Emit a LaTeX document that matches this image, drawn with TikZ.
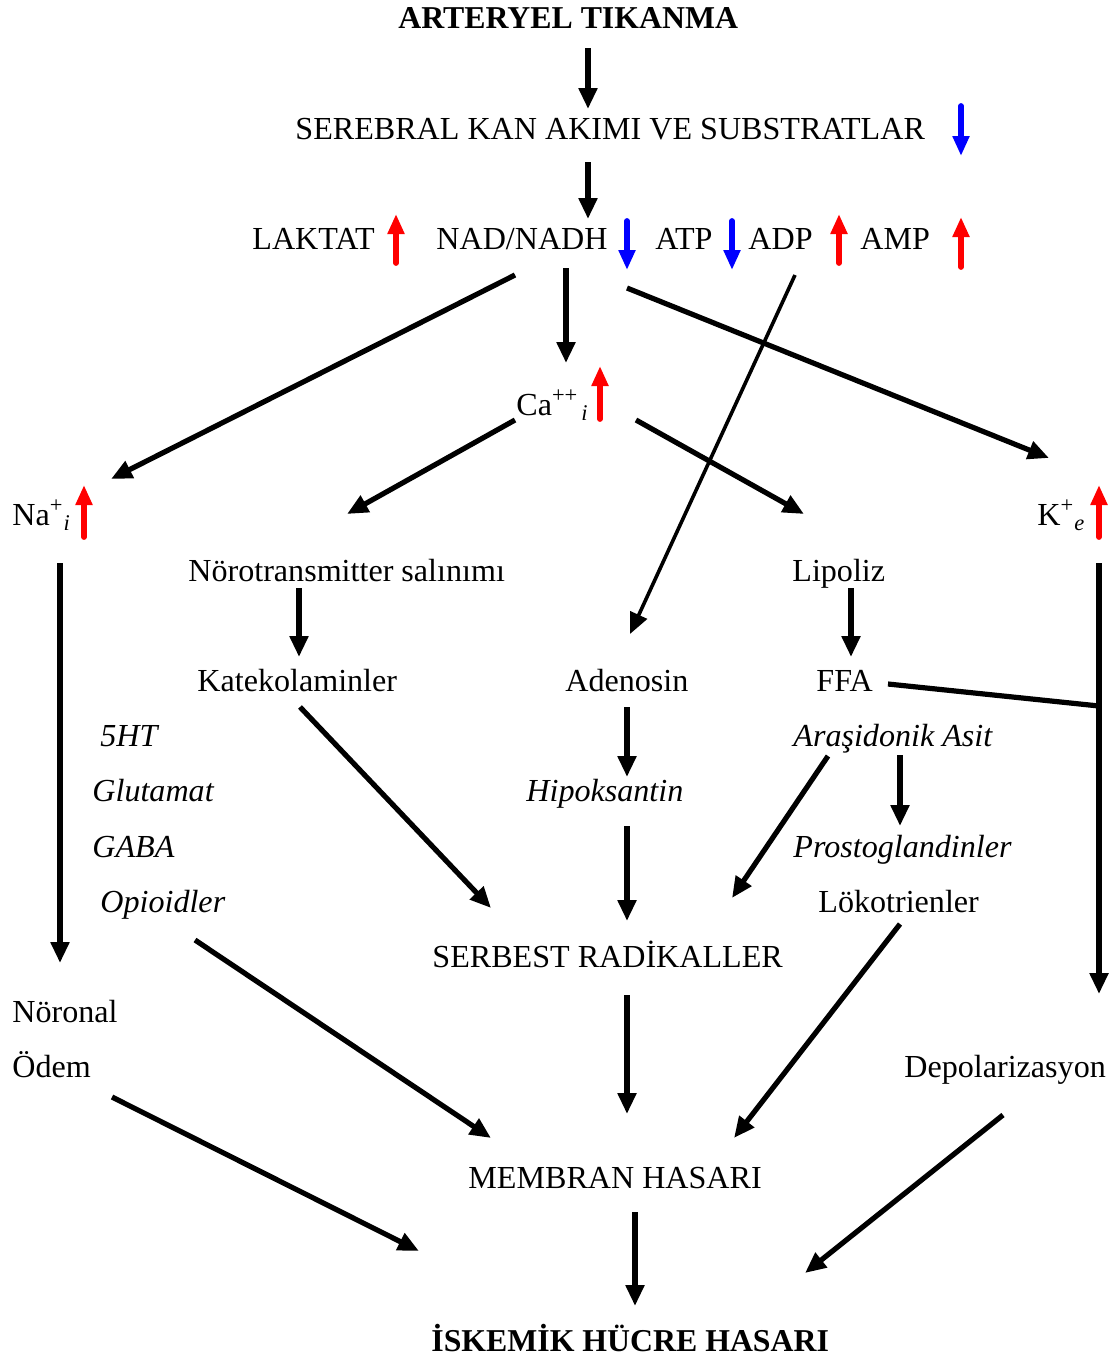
\documentclass[tikz,border=0pt]{standalone}
\usepackage{fontspec}
\setmainfont{Liberation Serif}
\usetikzlibrary{arrows.meta}

\tikzset{
    txt/.style={anchor=base west, inner sep=0, font=\fontsize{16.05}{19}\selectfont},
    itxt/.style={txt, font=\fontsize{16.05}{19}\selectfont\itshape},
    btxt/.style={txt, font=\fontsize{15.9}{19}\selectfont\bfseries},
    flow/.style={line width=2.6pt, -{Triangle[length=10.5pt,width=9pt]}},
    thin flow/.style={flow, line width=1.8pt},
    up mark/.style={red, line width=2.9pt, line cap=round, -{Triangle[length=10pt,width=8pt]}},
    down mark/.style={up mark, blue}
    }

\begin{document}
\begin{tikzpicture}[x=0.5pt, y=-0.5pt]
                \useasboundingbox (0,0) rectangle (1117,1360);
                % texts
                \node(art)[btxt] at (398,28) {ARTERYEL TIKANMA};
                \node(seb)[txt] at (295,139) {SEREBRAL KAN AKIMI VE SUBSTRATLAR};
                \node(lak)[txt] at (252,249) {LAKTAT};
                \node(nad)[txt] at (436,249) {NAD/NADH};
                \node(atp)[txt] at (655,249) {ATP};
                \node(adp)[txt] at (748,249) {ADP};
                \node(amp)[txt] at (860,249) {AMP};
                \node(ca)[txt] at (516,415) {Ca\textsuperscript{++}\kern1.5pt\textsubscript{\textit{i}}};
                \node(na)[txt] at (12,525) {Na\textsuperscript{+}\textsubscript{\textit{i}}};
                \node(k)[txt] at (1037,525) {K\textsuperscript{+}\textsubscript{\textit{e}}};
                \node(nor)[txt] at (188,581) {Nörotransmitter salınımı};
                \node(lip)[txt] at (792,581) {Lipoliz};
                \node(kat)[txt] at (197,691) {Katekolaminler};
                \node(ade)[txt] at (565,691) {Adenosin};
                \node(ffa)[txt] at (816,691) {FFA};
                \node(ht)[itxt] at (100,746) {5HT};
                \node(ara)[itxt] at (793,746) {Araşidonik Asit};
                \node(glu)[itxt] at (92,801) {Glutamat};
                \node(hip)[itxt] at (526,801) {Hipoksantin};
                \node(gab)[itxt] at (92,857) {GABA};
                \node(pro)[itxt] at (793,857) {Prostoglandinler};
                \node(opi)[itxt] at (100,912) {Opioidler};
                \node(lok)[txt] at (818,912) {Lökotrienler};
                \node(srb)[txt] at (432,967) {SERBEST RADİKALLER};
                \node(non)[txt] at (12,1022) {Nöronal};
                \node(ode)[txt] at (12,1077) {Ödem};
                \node(dep)[txt] at (904,1077) {Depolarizasyon};
                \node(mem)[txt] at (468,1188) {MEMBRAN HASARI};
                \node(isk)[btxt] at (431,1351) {İSKEMİK HÜCRE HASARI};

                % up / down marks
                \draw[down mark] (961,106) -- (961,156);
                \draw[up mark] (396,263) -- (396,214);
                \draw[down mark] (627,221) -- (627,270);
                \draw[down mark] (732,221) -- (732,270);
                \draw[up mark] (839,263) -- (839,214);
                \draw[up mark] (961,267) -- (961,217);
                \draw[up mark] (600,419) -- (600,366);
                \draw[up mark] (84,537) -- (84,485);
                \draw[up mark] (1099,537) -- (1099,485);

                % connector ends
                \coordinate (art-o) at (588,48);   \coordinate (seb-i) at (588,109);
                \coordinate (seb-o) at (588,162);  \coordinate (nad-i) at (588,219);
                \coordinate (nad-l) at (515,275);  \coordinate (na-i) at (111,479);
                \coordinate (nad-m) at (566,268);  \coordinate (ca-i) at (566,363);
                \coordinate (nad-r) at (627,288);  \coordinate (k-i) at (1049,458);
                \coordinate (adp-o) at (795,275);  \coordinate (ade-i) at (630,634);
                \coordinate (ca-l) at (515,420);   \coordinate (nor-i) at (347,514);
                \coordinate (ca-r) at (636,420);   \coordinate (lip-i) at (804,514);
                \coordinate (na-o) at (60,563);    \coordinate (non-i) at (60,963);
                \coordinate (k-o) at (1099,563);   \coordinate (dep-i) at (1099,994);
                \coordinate (k-j) at (1099,706);   \coordinate (ffa-o) at (888,684);
                \coordinate (nor-o) at (299,588);  \coordinate (kat-i) at (299,657);
                \coordinate (kat-o) at (300,707);  \coordinate (srb-l) at (491,908);
                \coordinate (opi-o) at (195,940);  \coordinate (mem-l) at (491,1138);
                \coordinate (lip-o) at (851,588);  \coordinate (ffa-i) at (851,657);
                \coordinate (ade-o) at (627,707);  \coordinate (hip-i) at (627,777);
                \coordinate (hip-o) at (627,826);  \coordinate (srb-i) at (627,921);
                \coordinate (ara-o) at (900,755);  \coordinate (pro-i) at (900,826);
                \coordinate (ara-l) at (828,756);  \coordinate (srb-r) at (732,898);
                \coordinate (lok-o) at (900,924);  \coordinate (mem-r) at (734,1138);
                \coordinate (srb-o) at (627,995);  \coordinate (mem-i) at (627,1114);
                \coordinate (ode-o) at (112,1097); \coordinate (isk-l) at (419,1251);
                \coordinate (dep-o) at (1003,1115);\coordinate (isk-r) at (805,1273);
                \coordinate (mem-o) at (635,1212); \coordinate (isk-i) at (635,1306);

                % connectors
                \draw[flow] (art-o) -- (seb-i);
                \draw[flow] (seb-o) -- (nad-i);
                \draw[flow] (nad-l) -- (na-i);
                \draw[flow] (nad-m) -- (ca-i);
                \draw[flow] (nad-r) -- (k-i);
                \draw[thin flow] (adp-o) -- (ade-i);
                \draw[flow] (ca-l) -- (nor-i);
                \draw[flow] (ca-r) -- (lip-i);
                \draw[flow] (na-o) -- (non-i);
                \draw[flow] (k-o) -- (dep-i);
                \draw[line width=2.6pt] (ffa-o) -- (k-j);
                \draw[flow] (nor-o) -- (kat-i);
                \draw[flow] (kat-o) -- (srb-l);
                \draw[flow] (opi-o) -- (mem-l);
                \draw[flow] (lip-o) -- (ffa-i);
                \draw[flow] (ade-o) -- (hip-i);
                \draw[flow] (hip-o) -- (srb-i);
                \draw[flow] (ara-o) -- (pro-i);
                \draw[flow] (ara-l) -- (srb-r);
                \draw[flow] (lok-o) -- (mem-r);
                \draw[flow] (srb-o) -- (mem-i);
                \draw[flow] (ode-o) -- (isk-l);
                \draw[flow] (dep-o) -- (isk-r);
                \draw[flow] (mem-o) -- (isk-i);
            \end{tikzpicture}
\end{document}
